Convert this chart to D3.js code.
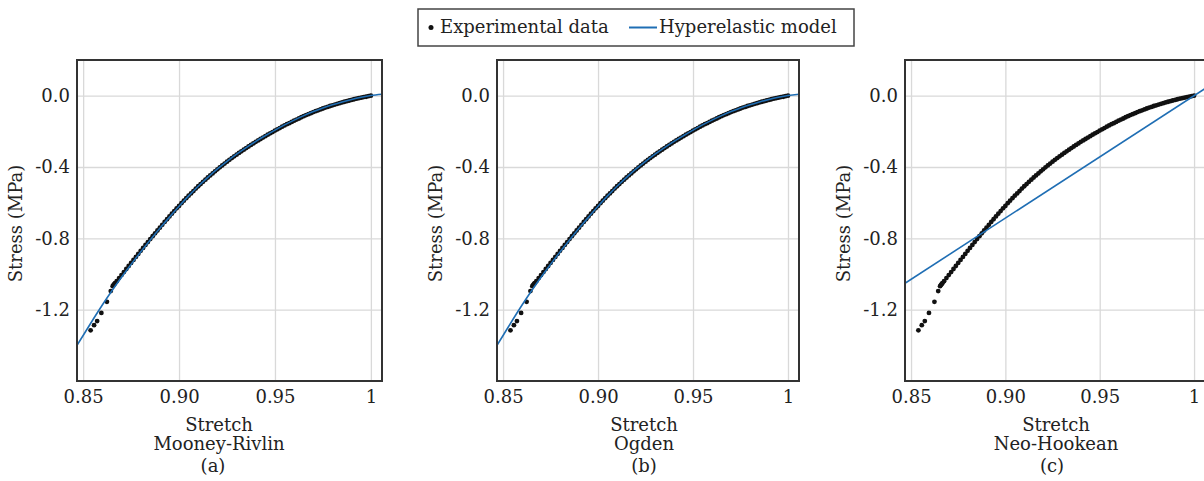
<!DOCTYPE html>
<html>
<head>
<meta charset="utf-8">
<script src="https://cdn.jsdelivr.net/npm/d3@7"></script>
<style>
  body { margin: 0; background: #fff; }
  text { font-family: "DejaVu Serif", serif; fill: #222; }
</style>
</head>
<body>
<div id="chart"></div>
<script>
// experimental points (stretch, stress in MPa)
const expStretch = [
  0.8539, 0.8557, 0.8573, 0.8595, 0.8624, 0.8644, 0.8654, 0.8658, 0.8662, 0.8666,
  0.8675, 0.86875, 0.870, 0.87125, 0.8725, 0.87375, 0.875, 0.87625, 0.8775, 0.87875,
  0.880, 0.88125, 0.8825, 0.88375, 0.885, 0.88625, 0.8875, 0.88875, 0.890, 0.89125,
  0.8925, 0.89375, 0.895, 0.89625, 0.8975, 0.89875, 0.900, 0.90125, 0.9025, 0.90375,
  0.905, 0.90625, 0.9075, 0.90875, 0.910, 0.91125, 0.9125, 0.91375, 0.915, 0.91625,
  0.9175, 0.91875, 0.920, 0.92125, 0.9225, 0.92375, 0.925, 0.92625, 0.9275, 0.92875,
  0.930, 0.93125, 0.9325, 0.93375, 0.935, 0.93625, 0.9375, 0.93875, 0.940, 0.94125,
  0.9425, 0.94375, 0.945, 0.94625, 0.9475, 0.94875, 0.950, 0.95125, 0.9525, 0.95375,
  0.955, 0.95625, 0.9575, 0.95875, 0.960, 0.96125, 0.9625, 0.96375, 0.965, 0.96625,
  0.9675, 0.96875, 0.970, 0.97125, 0.9725, 0.97375, 0.975, 0.97625, 0.9775, 0.97875,
  0.980, 0.98125, 0.9825, 0.98375, 0.985, 0.98625, 0.9875, 0.98875, 0.990, 0.99125,
  0.9925, 0.99375, 0.995, 0.99625, 0.9975, 0.99875, 1.000
];
const expStress = [
  -1.316, -1.287, -1.264, -1.218, -1.156, -1.096, -1.068, -1.062, -1.057, -1.052,
  -1.040, -1.023, -1.006, -0.989, -0.972, -0.955, -0.938, -0.921, -0.904, -0.887,
  -0.870, -0.854, -0.837, -0.821, -0.804, -0.788, -0.772, -0.756, -0.740, -0.724,
  -0.708, -0.693, -0.677, -0.662, -0.647, -0.632, -0.618, -0.603, -0.589, -0.575,
  -0.561, -0.548, -0.535, -0.521, -0.508, -0.496, -0.483, -0.471, -0.459, -0.447,
  -0.436, -0.424, -0.413, -0.402, -0.391, -0.381, -0.370, -0.360, -0.350, -0.340,
  -0.331, -0.321, -0.312, -0.303, -0.294, -0.285, -0.276, -0.268, -0.259, -0.251,
  -0.243, -0.235, -0.227, -0.219, -0.211, -0.204, -0.196, -0.189, -0.182, -0.174,
  -0.167, -0.160, -0.154, -0.147, -0.140, -0.134, -0.128, -0.121, -0.115, -0.109,
  -0.104, -0.098, -0.092, -0.087, -0.082, -0.077, -0.072, -0.067, -0.063, -0.058,
  -0.054, -0.050, -0.046, -0.042, -0.038, -0.034, -0.031, -0.027, -0.024, -0.020,
  -0.017, -0.014, -0.011, -0.008, -0.006, -0.003, 0.000
];

// fitted model curves
const modelStretch = [
  0.8468, 0.850, 0.855, 0.860, 0.865, 0.870, 0.875, 0.880, 0.885, 0.890,
  0.895, 0.900, 0.905, 0.910, 0.915, 0.920, 0.925, 0.930, 0.935, 0.940,
  0.945, 0.950, 0.955, 0.960, 0.965, 0.970, 0.975, 0.980, 0.985, 0.990,
  0.995, 1.000, 1.0058
];
const mooneyStress = [
  -1.400, -1.345, -1.258, -1.174, -1.094, -1.018, -0.946, -0.876, -0.809, -0.744,
  -0.681, -0.620, -0.562, -0.508, -0.458, -0.411, -0.368, -0.328, -0.291, -0.256,
  -0.224, -0.193, -0.164, -0.137, -0.112, -0.089, -0.069, -0.051, -0.035, -0.021,
  -0.009, 0.001, 0.008
];
const ogdenStress = [
  -1.400, -1.345, -1.258, -1.174, -1.094, -1.018, -0.946, -0.876, -0.809, -0.744,
  -0.681, -0.620, -0.562, -0.508, -0.458, -0.411, -0.368, -0.328, -0.291, -0.256,
  -0.224, -0.193, -0.164, -0.137, -0.112, -0.089, -0.069, -0.051, -0.035, -0.021,
  -0.009, 0.001, 0.008
];
const neoStretch = [0.8468, 1.0058];
const neoStress = [-1.052, 0.040];

const xTicks = [0.85, 0.9, 0.95, 1.0];
const xTickLabels = ["0.85", "0.90", "0.95", "1"];
const yTicks = [0.0, -0.4, -0.8, -1.2];
const yTickLabels = ["0.0", "-0.4", "-0.8", "-1.2"];
const modelNames = ["Mooney-Rivlin", "Ogden", "Neo-Hookean"];
const panelLetters = ["(a)", "(b)", "(c)"];

const BLUE = "#1f6eb4";
const TOP = 60;
const BOTTOM = 381;
const FONT = "18px";

const svg = d3
  .select("#chart")
  .append("svg")
  .attr("width", 1204)
  .attr("height", 481);

svg.append("rect").attr("width", 1204).attr("height", 481).attr("fill", "#fff");

const points = expStretch.map((s, i) => ({ s: s, v: expStress[i] }));

const panels = [
  { left: 77, width: 305, labelX: 219, letterDx: -6, xs: modelStretch, ys: mooneyStress },
  { left: 497, width: 302, labelX: 644, letterDx: 0, xs: modelStretch, ys: ogdenStress },
  { left: 905, width: 300, labelX: 1056, letterDx: -4, xs: neoStretch, ys: neoStress },
];

const y = d3.scaleLinear().domain([-1.6, 0.2]).range([BOTTOM, TOP]);

panels.forEach((p, k) => {
  const x = d3
    .scaleLinear()
    .domain([0.8468, 1.0058])
    .range([p.left, p.left + p.width]);
  const g = svg.append("g");

  g.append("clipPath")
    .attr("id", "clip" + k)
    .append("rect")
    .attr("x", p.left)
    .attr("y", TOP)
    .attr("width", p.width)
    .attr("height", BOTTOM - TOP);

  // x grid + tick labels
  const xAxis = g
    .append("g")
    .attr("transform", `translate(0,${BOTTOM})`)
    .call(
      d3
        .axisBottom(x)
        .tickValues(xTicks)
        .tickFormat((d, i) => xTickLabels[i])
        .tickSize(-(BOTTOM - TOP))
        .tickPadding(9)
    );
  xAxis.select(".domain").remove();
  xAxis.selectAll("line").attr("stroke", "#d9d9d9").attr("stroke-width", 1.3);
  xAxis.selectAll("text").style("font-size", FONT).attr("fill", "#222");

  // y grid + tick labels
  const yAxis = g
    .append("g")
    .attr("transform", `translate(${p.left},0)`)
    .call(
      d3
        .axisLeft(y)
        .tickValues(yTicks)
        .tickFormat((d, i) => yTickLabels[i])
        .tickSize(-p.width)
        .tickPadding(7)
    );
  yAxis.select(".domain").remove();
  yAxis.selectAll("line").attr("stroke", "#d9d9d9").attr("stroke-width", 1.3);
  yAxis.selectAll("text").style("font-size", FONT).attr("fill", "#222");

  const plot = g.append("g").attr("clip-path", `url(#clip${k})`);

  plot
    .selectAll("circle")
    .data(points)
    .enter()
    .append("circle")
    .attr("cx", (d) => x(d.s))
    .attr("cy", (d) => y(d.v))
    .attr("r", 2.4)
    .attr("fill", "#111");

  const line = d3
    .line()
    .x((d) => x(d[0]))
    .y((d) => y(d[1]))
    .curve(d3.curveMonotoneX);

  plot
    .append("path")
    .datum(p.xs.map((s, i) => [s, p.ys[i]]))
    .attr("d", line)
    .attr("fill", "none")
    .attr("stroke", BLUE)
    .attr("stroke-width", 1.6);

  // frame
  g.append("rect")
    .attr("x", p.left)
    .attr("y", TOP)
    .attr("width", p.width)
    .attr("height", BOTTOM - TOP)
    .attr("fill", "none")
    .attr("stroke", "#333")
    .attr("stroke-width", 2);

  // axis titles
  g.append("text")
    .attr("transform", `translate(${p.left - 55},${(TOP + BOTTOM) / 2 + 3}) rotate(-90)`)
    .attr("text-anchor", "middle")
    .style("font-size", FONT)
    .text("Stress (MPa)");

  const lab = g.append("text").attr("text-anchor", "middle").style("font-size", FONT);
  lab.append("tspan").attr("x", p.labelX).attr("y", 431).text("Stretch");
  lab.append("tspan").attr("x", p.labelX).attr("y", 450).text(modelNames[k]);
  lab.append("tspan").attr("x", p.labelX + p.letterDx).attr("y", 472).text(panelLetters[k]);
});

// legend
const legend = svg.append("g");
legend
  .append("rect")
  .attr("x", 418)
  .attr("y", 9)
  .attr("width", 436)
  .attr("height", 37)
  .attr("fill", "#fff")
  .attr("stroke", "#444")
  .attr("stroke-width", 1.5);
legend.append("circle").attr("cx", 431).attr("cy", 27.5).attr("r", 2.5).attr("fill", "#111");
legend
  .append("text")
  .attr("x", 440)
  .attr("y", 33)
  .style("font-size", FONT)
  .text("Experimental data");
legend
  .append("line")
  .attr("x1", 629)
  .attr("x2", 657)
  .attr("y1", 27.5)
  .attr("y2", 27.5)
  .attr("stroke", BLUE)
  .attr("stroke-width", 2);
legend
  .append("text")
  .attr("x", 659)
  .attr("y", 33)
  .style("font-size", FONT)
  .text("Hyperelastic model");
</script>
</body>
</html>
